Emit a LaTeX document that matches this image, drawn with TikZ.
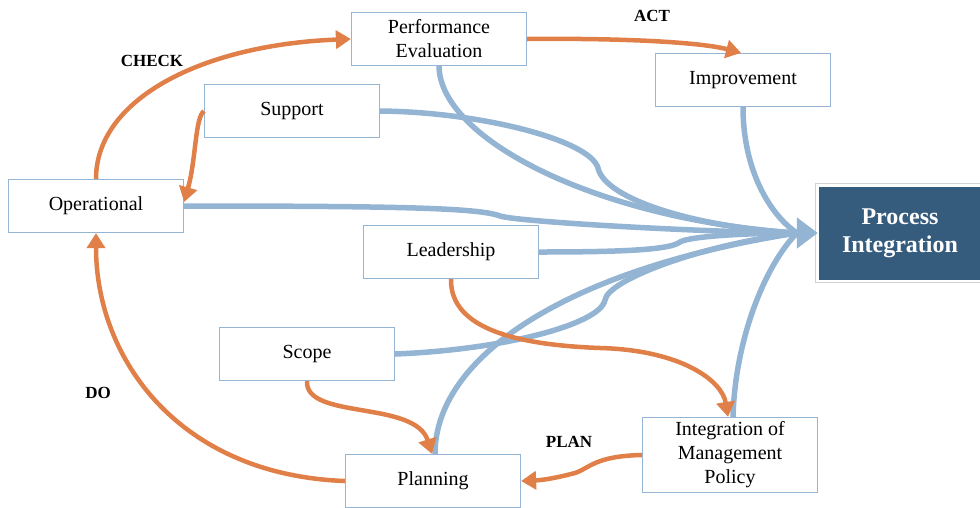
\documentclass[tikz,border=0pt]{standalone}
\usepackage{fontspec}
\setmainfont{Liberation Serif}
\usetikzlibrary{arrows.meta}

\definecolor{boxline}{RGB}{150,180,212}
\definecolor{linkblue}{RGB}{147,180,210}
\definecolor{cycleorange}{RGB}{224,128,72}
\definecolor{piblue}{RGB}{54,92,125}

\tikzset{
  stage/.style={draw=boxline, line width=1.2pt, fill=white, align=center,
    minimum width=175pt, minimum height=53pt, inner sep=2pt,
    font=\fontsize{20}{24}\selectfont},
  feed/.style={draw=linkblue, line width=5.5pt},
  cycle/.style={draw=cycleorange, line width=4.5pt, -{Triangle[length=15pt,width=18pt]}},
  phase/.style={font=\bfseries\fontsize{17}{20}\selectfont},
}

\begin{document}
\begin{tikzpicture}[x=1pt, y=-1pt]
\useasboundingbox (0,0) rectangle (980,507);

% the stages
\node[stage] (perf) at (439,39) {Performance\\Evaluation};
\node[stage] (impr) at (743,80) {Improvement};
\node[stage] (supp) at (292,111) {Support};
\node[stage] (op) at (96,206) {Operational};
\node[stage] (lead) at (451,252) {Leadership};
\node[stage] (scope) at (307,354) {Scope};
\node[stage] (plan) at (433,481) {Planning};
\node[stage, minimum height=75pt] (integ) at (730,455) {Integration of\\Management\\Policy};

% target box with its thin frame
\node[fill=piblue, text=white, align=center, minimum width=162pt, minimum height=93pt,
  font=\bfseries\fontsize{24}{28}\selectfont] (pi) at (900,233) {Process\\Integration};
\draw[gray!35, line width=1pt] ([xshift=-3pt,yshift=3pt]pi.north west) rectangle ([xshift=3pt,yshift=-3pt]pi.south east);

\coordinate (hub) at (797,233);

% everything feeds into the process box
\draw[feed] (perf.south) .. controls (440,140) and (600,220) .. (hub); % from evaluation
\draw[feed] (supp.east) .. controls (480,112) and (590,140) .. (598,168)
  .. controls (605,200) and (700,228) .. (hub); % from support
\draw[feed] (op.east) .. controls (400,206) and (480,208) .. (500,216)
  .. controls (520,222) and (700,232) .. (hub); % from operational
\draw[feed] (lead.east) .. controls (620,252) and (670,250) .. (680,242)
  .. controls (690,236) and (750,233) .. (hub); % from leadership
\draw[feed] (scope.east) .. controls (500,350) and (600,325) .. (605,300)
  .. controls (608,280) and (700,245) .. (hub); % from scope
\draw[feed] ([xshift=2pt]plan.north) .. controls (435,360) and (560,270) .. (hub); % from planning
\draw[feed] (impr.south) .. controls (743,170) and (770,215) .. (hub); % from improvement
\draw[feed] ([xshift=3pt]integ.north) .. controls (735,340) and (765,265) .. (hub); % from policy
\draw[feed, -{Triangle[length=21pt,width=30pt]}] (hub) -- ([xshift=-1pt]pi.west);

% the PDCA cycle
\draw[cycle] (op.north) .. controls (96,100) and (200,45) .. (perf.west); % check
\draw[cycle] (supp.west) .. controls (195,118) and (196,160) .. ([yshift=4pt]op.east);
\draw[cycle] (perf.east) .. controls (620,38) and (700,42) .. ([xshift=-2pt]impr.north); % act
\draw[cycle] (lead.south) .. controls (450,330) and (520,345) .. (600,348)
  .. controls (680,350) and (722,380) .. ([xshift=-2pt]integ.north);
\draw[cycle] (scope.south) .. controls (305,420) and (415,400) .. ([xshift=-1pt]plan.north);
\draw[cycle] (integ.west) .. controls (595,456) and (590,468) .. (575,473)
  .. controls (560,477) and (545,480) .. (plan.east); % plan
\draw[cycle] (plan.west) .. controls (180,475) and (96,360) .. (op.south); % do

% phase labels
\node[phase] (check) at (152,61) {CHECK};
\node[phase] (act) at (652,16) {ACT};
\node[phase] (do) at (98,393) {DO};
\node[phase] (planlbl) at (569,442) {PLAN};

\end{tikzpicture}
\end{document}
